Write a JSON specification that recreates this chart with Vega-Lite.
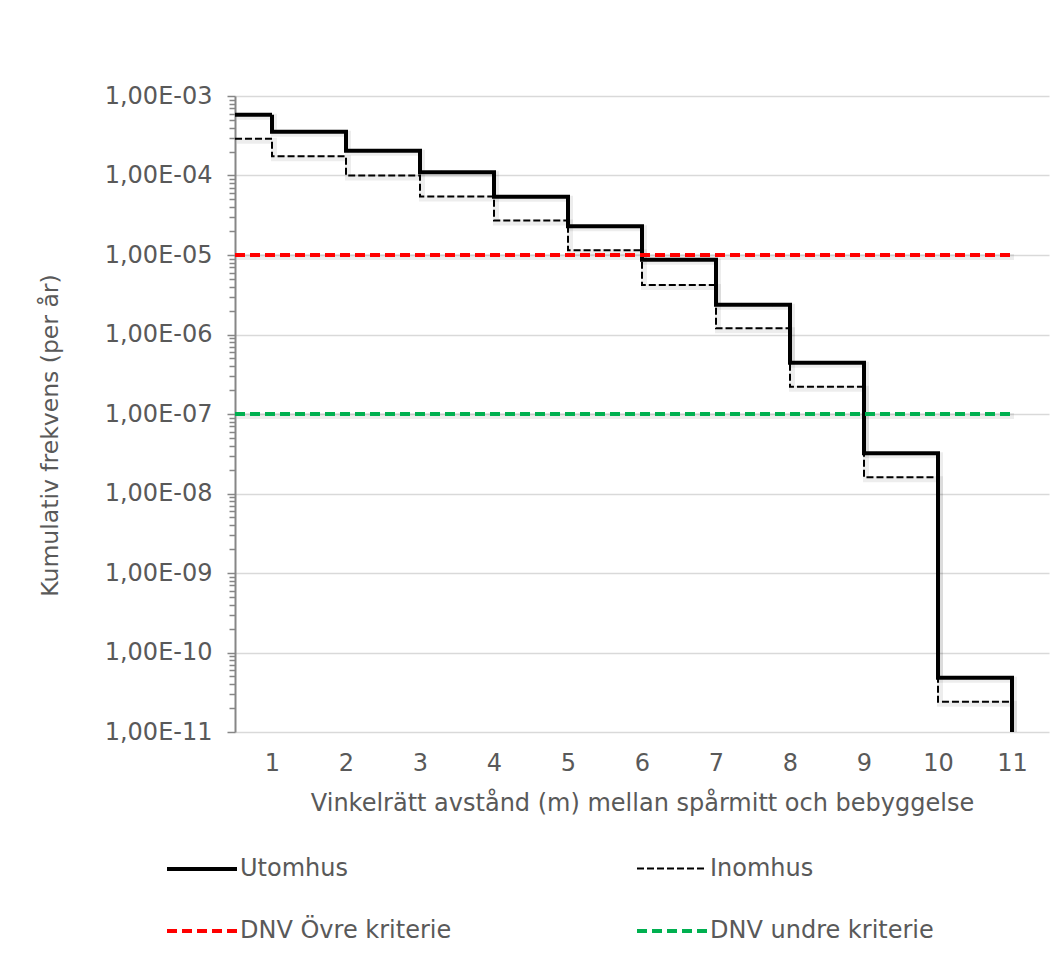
{
  "$schema": "https://vega.github.io/schema/vega-lite/v6.json",
  "width": 814,
  "height": 636,
  "autosize": {"type": "none"},
  "padding": {"left": 235, "top": 96, "right": 5, "bottom": 237},
  "background": "white",
  "config": {
    "view": {"stroke": null},
    "font": "DejaVu Sans",
    "axis": {"labelColor": "#595959", "titleColor": "#595959", "labelFont": "DejaVu Sans", "titleFont": "DejaVu Sans", "titleFontWeight": "normal"},
    "legend": {"labelColor": "#595959", "labelFont": "DejaVu Sans"}
  },
  "data": {
    "values": [
      {"x": 0.5, "frekvens": 5.8e-4, "serie": "Utomhus"},
      {"x": 1, "frekvens": 3.55e-4, "serie": "Utomhus"},
      {"x": 2, "frekvens": 2.05e-4, "serie": "Utomhus"},
      {"x": 3, "frekvens": 1.1e-4, "serie": "Utomhus"},
      {"x": 4, "frekvens": 5.4e-5, "serie": "Utomhus"},
      {"x": 5, "frekvens": 2.3e-5, "serie": "Utomhus"},
      {"x": 6, "frekvens": 8.7e-6, "serie": "Utomhus"},
      {"x": 7, "frekvens": 2.37e-6, "serie": "Utomhus"},
      {"x": 8, "frekvens": 4.4e-7, "serie": "Utomhus"},
      {"x": 9, "frekvens": 3.2e-8, "serie": "Utomhus"},
      {"x": 10, "frekvens": 4.8e-11, "serie": "Utomhus"},
      {"x": 11, "frekvens": 1e-13, "serie": "Utomhus"},
      {"x": 0.5, "frekvens": 2.9e-4, "serie": "Inomhus"},
      {"x": 1, "frekvens": 1.75e-4, "serie": "Inomhus"},
      {"x": 2, "frekvens": 1.0e-4, "serie": "Inomhus"},
      {"x": 3, "frekvens": 5.45e-5, "serie": "Inomhus"},
      {"x": 4, "frekvens": 2.72e-5, "serie": "Inomhus"},
      {"x": 5, "frekvens": 1.15e-5, "serie": "Inomhus"},
      {"x": 6, "frekvens": 4.2e-6, "serie": "Inomhus"},
      {"x": 7, "frekvens": 1.2e-6, "serie": "Inomhus"},
      {"x": 8, "frekvens": 2.2e-7, "serie": "Inomhus"},
      {"x": 9, "frekvens": 1.6e-8, "serie": "Inomhus"},
      {"x": 10, "frekvens": 2.4e-11, "serie": "Inomhus"},
      {"x": 11, "frekvens": 1e-13, "serie": "Inomhus"},
      {"x": 0.5, "frekvens": 1e-5, "serie": "DNV Övre kriterie"},
      {"x": 11, "frekvens": 1e-5, "serie": "DNV Övre kriterie"},
      {"x": 0.5, "frekvens": 1e-7, "serie": "DNV undre kriterie"},
      {"x": 11, "frekvens": 1e-7, "serie": "DNV undre kriterie"}
    ]
  },
  "encoding": {
    "x": {
      "field": "x",
      "type": "quantitative",
      "scale": {"domain": [0.5, 11.5], "nice": false, "zero": false},
      "axis": {
        "values": [1, 2, 3, 4, 5, 6, 7, 8, 9, 10, 11],
        "ticks": false,
        "domain": false,
        "grid": false,
        "labelFontSize": 24,
        "labelPadding": 19,
        "title": "Vinkelrätt avstånd (m) mellan spårmitt och bebyggelse",
        "titleFontSize": 24,
        "titlePadding": 16
      }
    },
    "y": {
      "field": "frekvens",
      "type": "quantitative",
      "scale": {"type": "log", "domain": [1e-11, 1e-3], "nice": false},
      "axis": {
        "values": [1e-11, 2e-11, 3e-11, 4e-11, 5e-11, 6e-11, 7e-11, 8e-11, 9e-11,
                   1e-10, 2e-10, 3e-10, 4e-10, 5e-10, 6e-10, 7e-10, 8e-10, 9e-10,
                   1e-9, 2e-9, 3e-9, 4e-9, 5e-9, 6e-9, 7e-9, 8e-9, 9e-9,
                   1e-8, 2e-8, 3e-8, 4e-8, 5e-8, 6e-8, 7e-8, 8e-8, 9e-8,
                   1e-7, 2e-7, 3e-7, 4e-7, 5e-7, 6e-7, 7e-7, 8e-7, 9e-7,
                   1e-6, 2e-6, 3e-6, 4e-6, 5e-6, 6e-6, 7e-6, 8e-6, 9e-6,
                   1e-5, 2e-5, 3e-5, 4e-5, 5e-5, 6e-5, 7e-5, 8e-5, 9e-5,
                   1e-4, 2e-4, 3e-4, 4e-4, 5e-4, 6e-4, 7e-4, 8e-4, 9e-4, 1e-3],
        "labelExpr": "abs(log(datum.value)/LN10 - round(log(datum.value)/LN10)) < 0.001 ? '1,00E-' + (round(-log(datum.value)/LN10) < 10 ? '0' : '') + round(-log(datum.value)/LN10) : ''",
        "labelOverlap": false,
        "labelFlush": false,
        "labelFontSize": 24,
        "labelPadding": 15,
        "grid": true,
        "gridColor": "#d9d9d9",
        "gridWidth": 1.5,
        "gridOpacity": {"condition": {"test": "abs(log(datum.value)/LN10 - round(log(datum.value)/LN10)) < 0.001", "value": 1}, "value": 0},
        "tickColor": "#868686",
        "tickWidth": 1.5,
        "tickSize": {"condition": {"test": "abs(log(datum.value)/LN10 - round(log(datum.value)/LN10)) < 0.001", "value": 8}, "value": 6},
        "domainColor": "#868686",
        "domainWidth": 2,
        "title": "Kumulativ frekvens (per år)",
        "titleFontSize": 23.5,
        "titlePadding": 42,
        "titleY": 339
      }
    }
  },
  "layer": [
    {
      "mark": {"type": "line", "interpolate": "step-after", "clip": true, "color": "#000000", "opacity": 0.07, "strokeWidth": 6, "xOffset": 2, "yOffset": 2},
      "encoding": {"detail": {"field": "serie", "type": "nominal"}}
    },
    {
      "mark": {"type": "line", "interpolate": "step-after", "clip": true},
      "encoding": {
        "color": {
          "field": "serie",
          "type": "nominal",
          "scale": {"domain": ["Utomhus", "Inomhus", "DNV Övre kriterie", "DNV undre kriterie"], "range": ["#000000", "#000000", "#ff0000", "#00b050"]},
          "legend": {
            "orient": "none",
            "direction": "horizontal",
            "legendX": -70,
            "legendY": 736,
            "columns": 2,
            "title": null,
            "padding": 0,
            "symbolType": "stroke",
            "symbolSize": 4900,
            "labelOffset": 1,
            "labelFontSize": 24,
            "labelLimit": 400,
            "columnPadding": 177,
            "rowPadding": 13
          }
        },
        "strokeDash": {
          "field": "serie",
          "type": "nominal",
          "scale": {"domain": ["Utomhus", "Inomhus", "DNV Övre kriterie", "DNV undre kriterie"], "range": [[1, 0], [7, 3], [10, 5], [10, 5]]}
        },
        "strokeWidth": {
          "field": "serie",
          "type": "nominal",
          "scale": {"type": "ordinal", "domain": ["Utomhus", "Inomhus", "DNV Övre kriterie", "DNV undre kriterie"], "range": [4, 2, 4, 4]}
        }
      }
    }
  ]
}
